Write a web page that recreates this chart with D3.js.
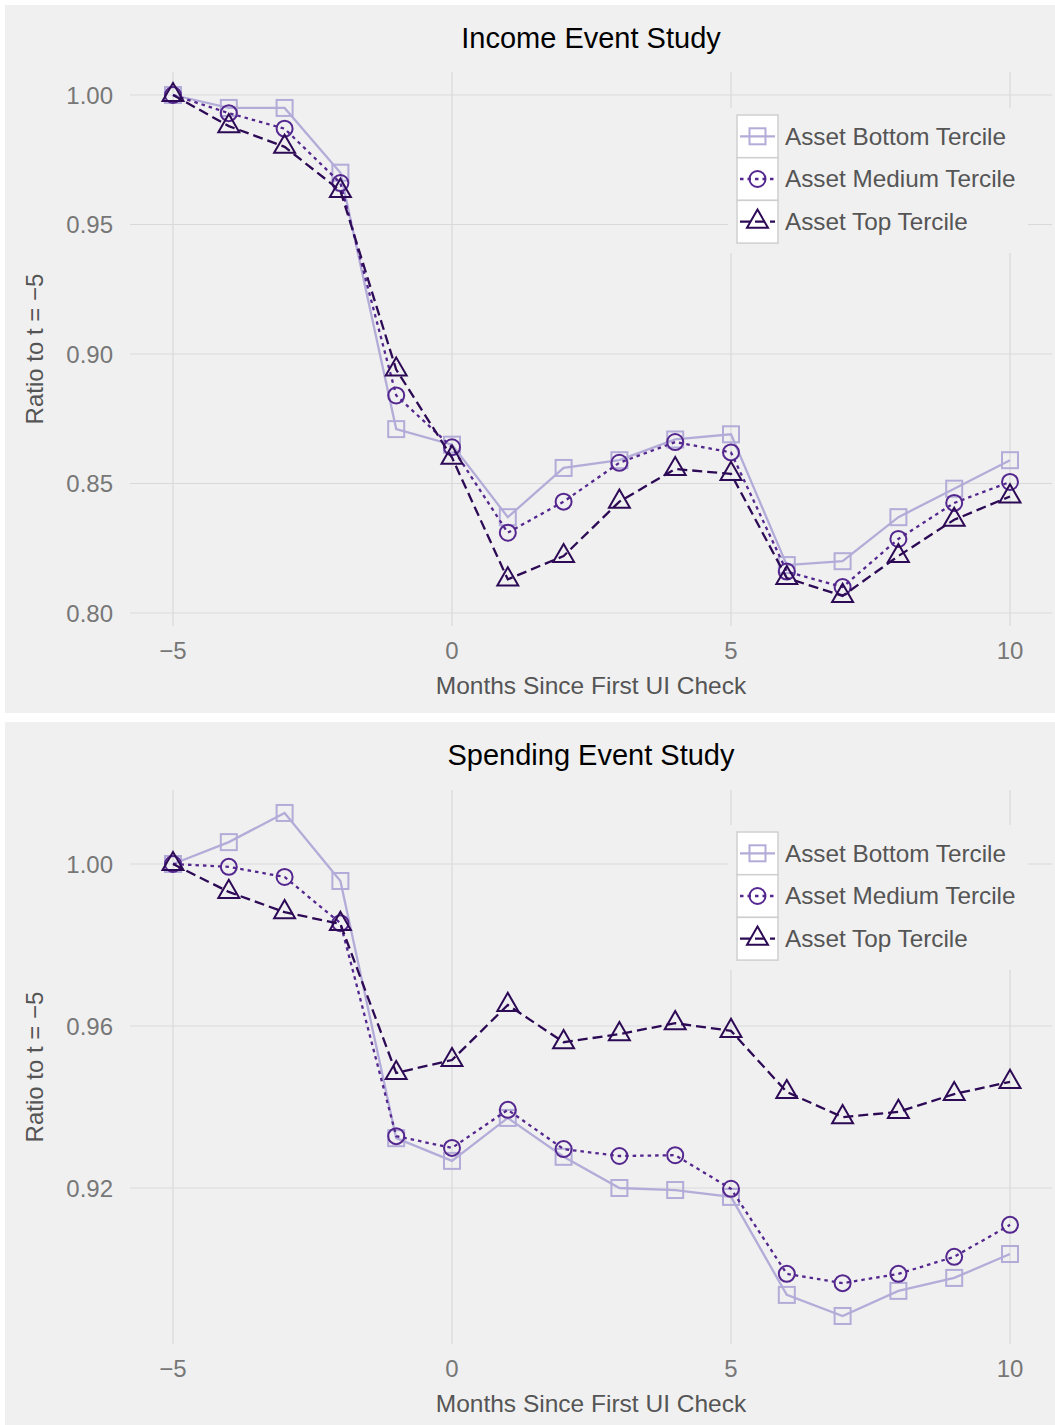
<!DOCTYPE html>
<html>
<head>
<meta charset="utf-8">
<script src="https://cdn.jsdelivr.net/npm/d3@7"></script>
<style>
  html, body { margin: 0; padding: 0; background: #fff; }
  svg { display: block; font-family: "Liberation Sans", Arial, Helvetica, sans-serif; }
</style>
</head>
<body>
<script>
// Months relative to first UI check
const months = [-5, -4, -3, -2, -1, 0, 1, 2, 3, 4, 5, 6, 7, 8, 9, 10];
const seriesNames = ["Asset Bottom Tercile", "Asset Medium Tercile", "Asset Top Tercile"];

// Income event study (ratio to t = -5)
const incomeBottom = [1.000, 0.995, 0.995, 0.970, 0.871, 0.865, 0.837, 0.856, 0.859, 0.867, 0.869, 0.8185, 0.820, 0.837, 0.848, 0.859];
const incomeMedium = [1.000, 0.993, 0.987, 0.966, 0.884, 0.864, 0.831, 0.843, 0.858, 0.866, 0.862, 0.816, 0.810, 0.8286, 0.8425, 0.8506];
const incomeTop    = [1.000, 0.988, 0.980, 0.963, 0.894, 0.860, 0.813, 0.822, 0.843, 0.8556, 0.8537, 0.8135, 0.8066, 0.822, 0.836, 0.845];

// Spending event study (ratio to t = -5)
const spendBottom = [1.000, 1.0054, 1.0126, 0.9958, 0.9323, 0.9267, 0.9373, 0.9277, 0.920, 0.9195, 0.9178, 0.8936, 0.8884, 0.8946, 0.8978, 0.9037];
const spendMedium = [1.000, 0.9993, 0.9968, 0.9854, 0.9328, 0.9299, 0.9393, 0.9296, 0.9279, 0.9281, 0.9198, 0.8988, 0.8965, 0.8988, 0.9030, 0.9109];
const spendTop    = [1.000, 0.9931, 0.9881, 0.9852, 0.9484, 0.9516, 0.9652, 0.9560, 0.958, 0.9607, 0.9588, 0.9437, 0.9375, 0.9388, 0.9432, 0.9462];

const xTicks = [-5, 0, 5, 10];
const incomeYTicks = [0.80, 0.85, 0.90, 0.95, 1.00];
const spendYTicks = [0.92, 0.96, 1.00];

const W = 1055, H = 1425;
const svg = d3.select("body").append("svg").attr("width", W).attr("height", H);

const styles = [
  { color: "#b3acd8", dash: null, shape: "square" },
  { color: "#54278f", dash: "3.5,4", shape: "circle" },
  { color: "#2d0a55", dash: "10,5", shape: "triangle" }
];

function drawMarker(g, shape, x, y, color) {
  if (shape === "square") {
    g.append("rect").attr("x", x - 8).attr("y", y - 8).attr("width", 16).attr("height", 16)
      .attr("fill", "none").attr("stroke", color).attr("stroke-width", 2);
  } else if (shape === "circle") {
    g.append("circle").attr("cx", x).attr("cy", y).attr("r", 8)
      .attr("fill", "none").attr("stroke", color).attr("stroke-width", 2);
  } else {
    g.append("path").attr("d", d3.symbol(d3.symbolTriangle, 190)())
      .attr("transform", `translate(${x},${y})`)
      .attr("fill", "none").attr("stroke", color).attr("stroke-width", 2);
  }
}

function drawPanel(cfg) {
  const g = svg.append("g");
  g.append("rect").attr("x", 5).attr("y", cfg.top).attr("width", 1050).attr("height", cfg.height)
    .attr("fill", "#f0f0f0");

  const x = d3.scaleLinear().domain([-5, 10]).range([173, 1010]);
  const y = d3.scaleLinear().domain(cfg.yDomain).range(cfg.yRange);

  // grid
  g.selectAll(".hg").data(cfg.yTicks).enter().append("line")
    .attr("x1", 130).attr("x2", 1052)
    .attr("y1", d => y(d)).attr("y2", d => y(d))
    .attr("stroke", "#d9d9d9").attr("stroke-width", 1.2);
  g.selectAll(".vg").data(xTicks).enter().append("line")
    .attr("x1", d => x(d)).attr("x2", d => x(d))
    .attr("y1", cfg.gridTop).attr("y2", cfg.gridBottom)
    .attr("stroke", "#d9d9d9").attr("stroke-width", 1.2);

  // tick labels
  g.selectAll(".yl").data(cfg.yTicks).enter().append("text")
    .attr("x", 113).attr("y", d => y(d) + 8.5)
    .attr("text-anchor", "end").attr("font-size", 24).attr("fill", "#777")
    .text(d => d.toFixed(2));
  g.selectAll(".xl").data(xTicks).enter().append("text")
    .attr("x", d => x(d)).attr("y", cfg.gridBottom + 33)
    .attr("text-anchor", "middle").attr("font-size", 24).attr("fill", "#777")
    .text(d => d < 0 ? "\u2212" + Math.abs(d) : d);

  // titles
  g.append("text").attr("x", 591).attr("y", cfg.top + 43)
    .attr("text-anchor", "middle").attr("font-size", 29).attr("fill", "#000")
    .text(cfg.title);
  g.append("text").attr("x", 591).attr("y", cfg.gridBottom + 68)
    .attr("text-anchor", "middle").attr("font-size", 24.5).attr("fill", "#555")
    .text("Months Since First UI Check");
  const cy = (cfg.gridTop + cfg.gridBottom) / 2;
  g.append("text").attr("transform", `translate(43,${cy}) rotate(-90)`)
    .attr("text-anchor", "middle").attr("font-size", 24).attr("fill", "#555")
    .text("Ratio to t = \u22125");

  // series
  cfg.series.forEach((vals, i) => {
    const st = styles[i];
    const pts = months.map((m, k) => [x(m), y(vals[k])]);
    g.append("path").attr("d", d3.line()(pts))
      .attr("fill", "none").attr("stroke", st.color).attr("stroke-width", 2.3)
      .attr("stroke-dasharray", st.dash);
    pts.forEach(p => drawMarker(g, st.shape, p[0], p[1], st.color));
  });

  // legend
  const lt = cfg.top + 103;
  g.append("rect").attr("x", 728).attr("y", lt).attr("width", 300).attr("height", 145)
    .attr("fill", "#f0f0f0");
  seriesNames.forEach((name, i) => {
    const st = styles[i];
    const ky = lt + 7 + i * 42.7;
    g.append("rect").attr("x", 737).attr("y", ky).attr("width", 41).attr("height", 42.7)
      .attr("fill", "#fff").attr("stroke", "#cfcfcf").attr("stroke-width", 1.5);
    g.append("line").attr("x1", 740).attr("x2", 775)
      .attr("y1", ky + 21.3).attr("y2", ky + 21.3)
      .attr("stroke", st.color).attr("stroke-width", 2.3).attr("stroke-dasharray", st.dash);
    drawMarker(g, st.shape, 757.5, ky + 21.3, st.color);
    g.append("text").attr("x", 785).attr("y", ky + 29.5)
      .attr("font-size", 24.3).attr("fill", "#555").text(name);
  });
}

drawPanel({
  title: "Income Event Study", top: 5, height: 708,
  yDomain: [0.80, 1.00], yRange: [613, 95], yTicks: incomeYTicks,
  gridTop: 72, gridBottom: 626,
  series: [incomeBottom, incomeMedium, incomeTop]
});
drawPanel({
  title: "Spending Event Study", top: 722, height: 703,
  yDomain: [0.92, 1.00], yRange: [1188, 864], yTicks: spendYTicks,
  gridTop: 790, gridBottom: 1344,
  series: [spendBottom, spendMedium, spendTop]
});
</script>
</body>
</html>
